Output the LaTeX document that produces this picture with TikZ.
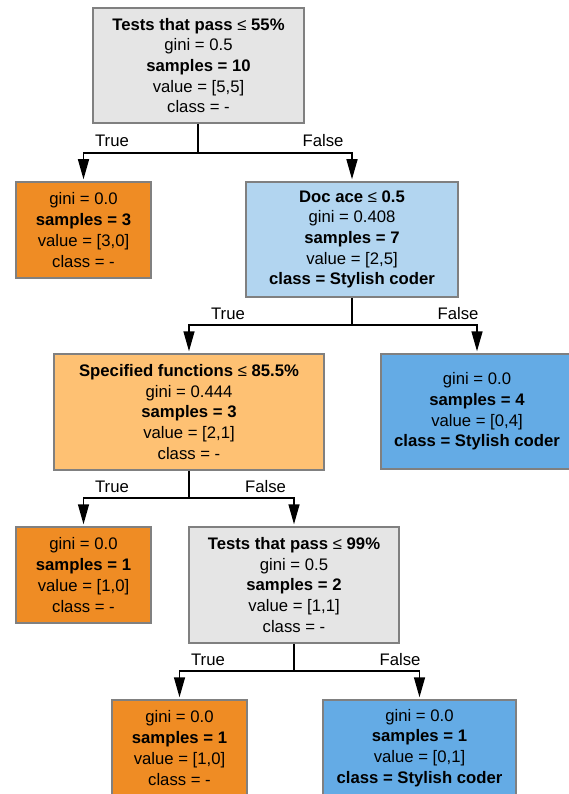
\documentclass[tikz,border=0pt]{standalone}
\usepackage{fontspec}
\setmainfont{Liberation Sans}
\usetikzlibrary{arrows.meta}
\definecolor{bordergrey}{RGB}{128,128,128}
\definecolor{greyfill}{RGB}{229,229,229}
\definecolor{orangefill}{RGB}{239,140,36}
\definecolor{lightorange}{RGB}{254,193,115}
\definecolor{lightblue}{RGB}{178,213,240}
\definecolor{bluefill}{RGB}{100,171,229}
\newcommand{\leqsym}{{\fontseries{m}\selectfont ≤}}
\begin{document}
\begin{tikzpicture}[x=1pt,y=-1pt,
  treebox/.style={draw=bordergrey, line width=1.5pt, inner sep=0pt, align=center,
    font=\fontsize{16.7}{20.7}\selectfont},
  edge/.style={draw=black, line width=1.5pt, -{Triangle[length=20pt,width=11pt]}, shorten >=2pt},
  lbl/.style={font=\fontsize{16.7}{20}\selectfont, inner sep=0pt}]
\useasboundingbox (0,0) rectangle (569,794);
\clip (0,0) rectangle (569,794);
\node[treebox, fill=greyfill, minimum width=211pt, minimum height=115pt] (root) at (198.5,65.5)
  {\textbf{Tests that pass \leqsym\ 55\%}\\gini = 0.5\\\textbf{samples = 10}\\value = [5,5]\\class = -};
\node[treebox, fill=orangefill, minimum width=135pt, minimum height=96pt] (a) at (83.5,230)
  {gini = 0.0\\\textbf{samples = 3}\\value = [3,0]\\class = -};
\node[treebox, fill=lightblue, minimum width=212pt, minimum height=115pt] (b) at (352,239.5)
  {\textbf{Doc ace \leqsym\ 0.5}\\gini = 0.408\\\textbf{samples = 7}\\value = [2,5]\\\textbf{class = Stylish coder}};
\node[treebox, fill=lightorange, minimum width=270pt, minimum height=116pt] (c) at (189,412)
  {\textbf{Specified functions \leqsym\ 85.5\%}\\gini = 0.444\\\textbf{samples = 3}\\value = [2,1]\\class = -};
\node[treebox, fill=bluefill, minimum width=192pt, minimum height=115pt] (d) at (477,411.5)
  {gini = 0.0\\\textbf{samples = 4}\\value = [0,4]\\\textbf{class = Stylish coder}};
\node[treebox, fill=orangefill, minimum width=135pt, minimum height=96pt] (e) at (83.5,575)
  {gini = 0.0\\\textbf{samples = 1}\\value = [1,0]\\class = -};
\node[treebox, fill=greyfill, minimum width=210pt, minimum height=116pt] (f) at (294,585)
  {\textbf{Tests that pass \leqsym\ 99\%}\\gini = 0.5\\\textbf{samples = 2}\\value = [1,1]\\class = -};
\node[treebox, fill=orangefill, minimum width=135pt, minimum height=96pt] (g) at (179.5,748)
  {gini = 0.0\\\textbf{samples = 1}\\value = [1,0]\\class = -};
\node[treebox, fill=bluefill, minimum width=193pt, minimum height=96pt] (h) at (419.5,748)
  {gini = 0.0\\\textbf{samples = 1}\\value = [0,1]\\\textbf{class = Stylish coder}};
% connectors
\coordinate (j0) at (198,153);
\coordinate (j1) at (352,325);
\coordinate (j2) at (189,498);
\coordinate (j3) at (294,671);
\draw[line width=1.5pt] (root.south -| j0) -- (j0);
\draw[edge] (j0) -| (a.north);
\draw[edge] (j0) -| (b.north);
\draw[line width=1.5pt] (b.south -| j1) -- (j1);
\draw[edge] (j1) -| (c.north);
\draw[edge] (j1) -| (d.north);
\draw[line width=1.5pt] (c.south -| j2) -- (j2);
\draw[edge] (j2) -| (e.north);
\draw[edge] (j2) -| (f.north);
\draw[line width=1.5pt] (f.south -| j3) -- (j3);
\draw[edge] (j3) -| (g.north);
\draw[edge] (j3) -| (h.north);
% labels
\node[lbl] (t0) at (112,141) {True};
\node[lbl] (f0) at (323,141) {False};
\node[lbl] (t1) at (228,314) {True};
\node[lbl] (f1) at (458,314) {False};
\node[lbl] (t2) at (112,487) {True};
\node[lbl] (f2) at (265.5,487) {False};
\node[lbl] (t3) at (208,660) {True};
\node[lbl] (f3) at (400,660) {False};
\end{tikzpicture}
\end{document}
